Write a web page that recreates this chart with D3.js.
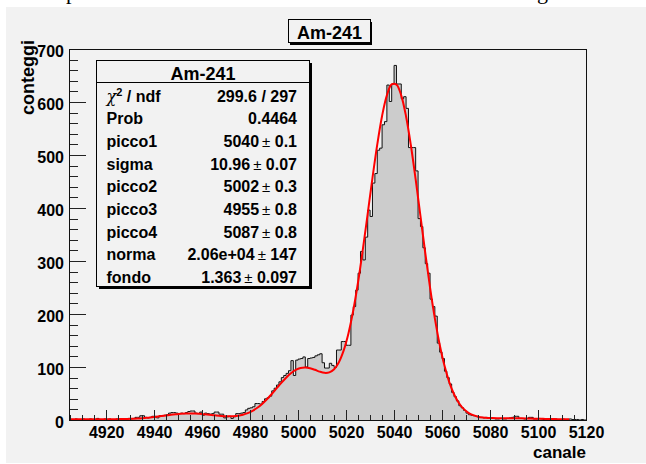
<!DOCTYPE html>
<html>
<head>
<meta charset="utf-8">
<script src="https://cdn.jsdelivr.net/npm/d3@7"></script>
<style>
  html, body { margin: 0; padding: 0; background: #ffffff; }
  svg { display: block; }
  text { font-family: "Liberation Sans", Arial, Helvetica, sans-serif; }
</style>
</head>
<body>
<svg id="chart" width="646" height="464"></svg>
<script>
// ---- data -------------------------------------------------------------
// counts per channel, one bin per channel starting at firstChannel
const firstChannel = 4905;
const counts = [
  // 4905-4927
  1,0,2,1,1,2,0,1,2,1,1,3,1,0,2,1,2,1,1,2,2,1,2,
  // 4928-4944
  1,3,2,3,5,5,8,8,5,4,5,7,7,4,8,8,9,
  // 4945-4960
  10,13,14,14,13,12,13,12,14,16,17,17,13,12,15,9,
  // 4961-4977
  13,12,11,12,15,15,11,11,4,6,7,3,6,12,12,13,14,
  // 4978-4999
  19,22,23,25,31,31,30,35,40,42,45,55,60,66,72,80,84,88,93,112,84,113,
  // 5000-5021
  115,116,119,100,116,117,118,121,123,125,108,98,98,107,103,99,132,132,148,148,141,141,
  // 5022-5048
  198,214,245,277,318,302,345,396,384,447,465,509,513,557,563,632,601,634,669,634,634,606,610,588,514,514,514,
  // 5049-5080
  470,380,365,325,295,277,228,214,196,145,128,116,92,80,68,52,44,36,27,23,18,13,10,9,8,7,5,5,4,5,4,4,
  // 5081-5119
  3,2,2,3,2,2,3,4,5,7,7,3,3,2,3,5,5,2,2,3,2,1,2,2,1,1,2,1,1,2,1,1,2,1,1,1,0,1,0
];

// fitted function, sampled every fitStep channels from fitStart
const fitStart = 4905;
const fitStep = 2;
const fitValues = [
  1.4,1.4,1.4,1.4,1.4,1.4,1.4,1.4,1.5,1.5,
  1.6,1.8,2.0,2.4,2.8,3.4,4.2,5.2,6.2,7.4,
  8.6,9.8,10.8,11.7,12.2,12.4,12.2,11.7,10.9,10.0,
  8.9,8.0,7.3,6.9,7.1,8.1,10.0,13.0,17.3,23.1,
  30.4,39.1,49.0,59.5,70.0,79.8,88.2,94.4,98.1,99.1,
  97.7,94.7,91.2,89.0,89.9,95.9,109.1,131.3,163.8,207.0,
  260.4,322.2,389.1,456.8,520.1,573.7,612.6,633.1,632.9,612.1,
  572.7,518.4,453.9,384.5,315.1,249.9,191.8,142.5,102.6,71.6,
  48.6,32.2,21.0,13.6,9.1,6.3,4.8,4.0,3.7,3.5,
  3.5,3.4,3.4,3.2,3.1,2.9,2.7,2.5,2.2,2.1,
  1.9,1.7,1.6,1.5,1.5
];

const xRange = [4904.5, 5120];
const yRange = [0, 700];
const xMajorTicks = [4920, 4940, 4960, 4980, 5000, 5020, 5040, 5060, 5080, 5100, 5120];
const xMinorStep = 5;
const yMajorTicks = [0, 100, 200, 300, 400, 500, 600, 700];
const yMinorStep = 20;

const histTitle = "Am-241";
const xTitle = "canale";
const yTitle = "conteggi";

// fit statistics box
const statNames  = ["chi2", "Prob", "picco1", "sigma", "picco2", "picco3", "picco4", "norma", "fondo"];
const statValues = ["299.6 / 297", "0.4464", "5040", "10.96", "5002", "4955", "5087", "2.06e+04", "1.363"];
const statErrors = ["", "", "0.1", "0.07", "0.3", "0.8", "0.8", "147", "0.097"];

// ---- drawing ----------------------------------------------------------
const svg = d3.select("#chart");

// page background and canvas
svg.append("rect").attr("x", 0).attr("y", 0).attr("width", 646).attr("height", 464).attr("fill", "#ffffff");
svg.append("rect").attr("x", 6).attr("y", 7).attr("width", 640).attr("height", 456).attr("fill", "#f2f2f2");

// descenders of the text line above the canvas
svg.append("text").attr("x", 66).attr("y", -1.5)
  .style("font-family", "'Liberation Serif', serif").style("font-size", "22px").text("p");
svg.append("text").attr("x", 537).attr("y", -1.5)
  .style("font-family", "'Liberation Serif', serif").style("font-size", "22px").text("g");

const frame = { left: 69, top: 49, right: 586, bottom: 420 };

const x = d3.scaleLinear().domain(xRange).range([frame.left, frame.right]);
const y = d3.scaleLinear().domain(yRange).range([frame.bottom, frame.top]);

// histogram as a step curve
const bins = counts.map((c, i) => ({ lo: firstChannel + i, v: c }));
const stepPts = bins.concat([{ lo: firstChannel + counts.length, v: counts[counts.length - 1] }]);

const area = d3.area()
  .x(d => x(d.lo)).y0(y(0)).y1(d => y(d.v))
  .curve(d3.curveStepAfter);
const outline = d3.line()
  .x(d => x(d.lo)).y(d => y(d.v))
  .curve(d3.curveStepAfter);

svg.append("path").datum(stepPts)
  .attr("d", area).attr("fill", "#cccccc").attr("stroke", "none");
svg.append("path").datum(stepPts)
  .attr("d", outline).attr("fill", "none")
  .attr("stroke", "#111111").attr("stroke-width", 1);

// fitted function
const fitPts = fitValues.map((v, i) => ({ ch: fitStart + i * fitStep, v }));
svg.append("path").datum(fitPts)
  .attr("d", d3.line().x(d => x(d.ch)).y(d => y(d.v)).curve(d3.curveCatmullRom))
  .attr("fill", "none").attr("stroke", "#ff0000").attr("stroke-width", 2)
  .attr("stroke-linejoin", "round");

// axes: ticks point into the frame
function styleAxis(g) {
  g.attr("font-family", null).attr("font-size", null);
  g.selectAll("line").attr("stroke", "#222").attr("shape-rendering", "crispEdges");
  g.select(".domain").attr("stroke", "#222").attr("shape-rendering", "crispEdges");
  g.selectAll("text")
    .style("font-family", "'Liberation Sans', Arial, sans-serif")
    .style("font-weight", "bold").style("font-size", "16px").attr("fill", "#000");
}

const xMinor = d3.range(firstChannel, xRange[1] + 0.01, xMinorStep);
svg.append("g").attr("transform", `translate(0,${frame.bottom})`)
  .call(d3.axisBottom(x).tickValues(xMinor).tickSizeInner(-5).tickSizeOuter(0).tickFormat(""))
  .call(styleAxis);
svg.append("g").attr("transform", `translate(0,${frame.bottom})`)
  .call(d3.axisBottom(x).tickValues(xMajorTicks).tickSizeInner(-10).tickSizeOuter(0)
    .tickPadding(7).tickFormat(d3.format("d")))
  .call(styleAxis);

const yMinor = d3.range(yRange[0], yRange[1] + 0.01, yMinorStep);
svg.append("g").attr("transform", `translate(${frame.left},0)`)
  .call(d3.axisLeft(y).tickValues(yMinor).tickSizeInner(-9).tickSizeOuter(0).tickFormat(""))
  .call(styleAxis);
const gy = svg.append("g").attr("transform", `translate(${frame.left},0)`)
  .call(d3.axisLeft(y).tickValues(yMajorTicks).tickSizeInner(-16.5).tickSizeOuter(0)
    .tickPadding(5).tickFormat(d3.format("d")))
  .call(styleAxis);
gy.selectAll("text").attr("dy", "0.45em");

// frame border
svg.append("rect")
  .attr("x", frame.left).attr("y", frame.top)
  .attr("width", frame.right - frame.left).attr("height", frame.bottom - frame.top)
  .attr("fill", "none").attr("stroke", "#111").attr("stroke-width", 1)
  .attr("shape-rendering", "crispEdges");

// axis titles
svg.append("text")
  .attr("x", frame.right).attr("y", 458)
  .attr("text-anchor", "end")
  .style("font-weight", "bold").style("font-size", "17px")
  .text(xTitle);
svg.append("text")
  .attr("transform", "translate(34,40) rotate(-90)")
  .attr("text-anchor", "end")
  .style("font-weight", "bold").style("font-size", "18px")
  .text(yTitle);

// pave with a drop shadow on the right and bottom
function pave(x0, y0, w, h) {
  svg.append("rect").attr("x", x0 + 2).attr("y", y0 + 2).attr("width", w).attr("height", h)
    .attr("fill", "#000").attr("shape-rendering", "crispEdges");
  svg.append("rect").attr("x", x0).attr("y", y0).attr("width", w).attr("height", h)
    .attr("fill", "#f2f2f2").attr("stroke", "#000").attr("stroke-width", 1)
    .attr("shape-rendering", "crispEdges");
}

// title box
pave(288, 19.5, 82, 23);
svg.append("text").attr("x", 329.5).attr("y", 39.3).attr("text-anchor", "middle")
  .style("font-weight", "bold").style("font-size", "18px").text(histTitle);

// statistics box
const box = { x: 96.5, y: 60.5, w: 213, h: 226 };
pave(box.x, box.y, box.w, box.h);
svg.append("line")
  .attr("x1", box.x).attr("x2", box.x + box.w).attr("y1", 82.5).attr("y2", 82.5)
  .attr("stroke", "#000").attr("shape-rendering", "crispEdges");
svg.append("text").attr("x", box.x + box.w / 2).attr("y", 79.5).attr("text-anchor", "middle")
  .style("font-weight", "bold").style("font-size", "18px").text(histTitle);

const rowY = d3.scaleLinear().domain([0, statNames.length - 1]).range([101.5, 283.2]);
statNames.forEach((name, i) => {
  const label = svg.append("text").attr("x", 106.5).attr("y", rowY(i))
    .style("font-size", "16px").style("font-weight", "bold");
  if (name === "chi2") {
    label.append("tspan").style("font-family", "'DejaVu Serif', 'Liberation Serif', serif")
      .style("font-weight", "normal").style("font-style", "italic").style("font-size", "16px").text("χ");
    label.append("tspan").attr("dy", -6).style("font-size", "11px").text("2");
    label.append("tspan").attr("dy", 6).text(" / ndf");
  } else {
    label.text(name);
  }

  const val = svg.append("text").attr("x", 297).attr("y", rowY(i)).attr("text-anchor", "end")
    .style("font-size", "16px").style("font-weight", "bold");
  val.append("tspan").text(statValues[i]);
  if (statErrors[i]) {
    val.append("tspan").attr("dx", 3).style("font-weight", "normal").style("font-size", "15px").text("±");
    val.append("tspan").text(" " + statErrors[i]);
  }
});
</script>
</body>
</html>
